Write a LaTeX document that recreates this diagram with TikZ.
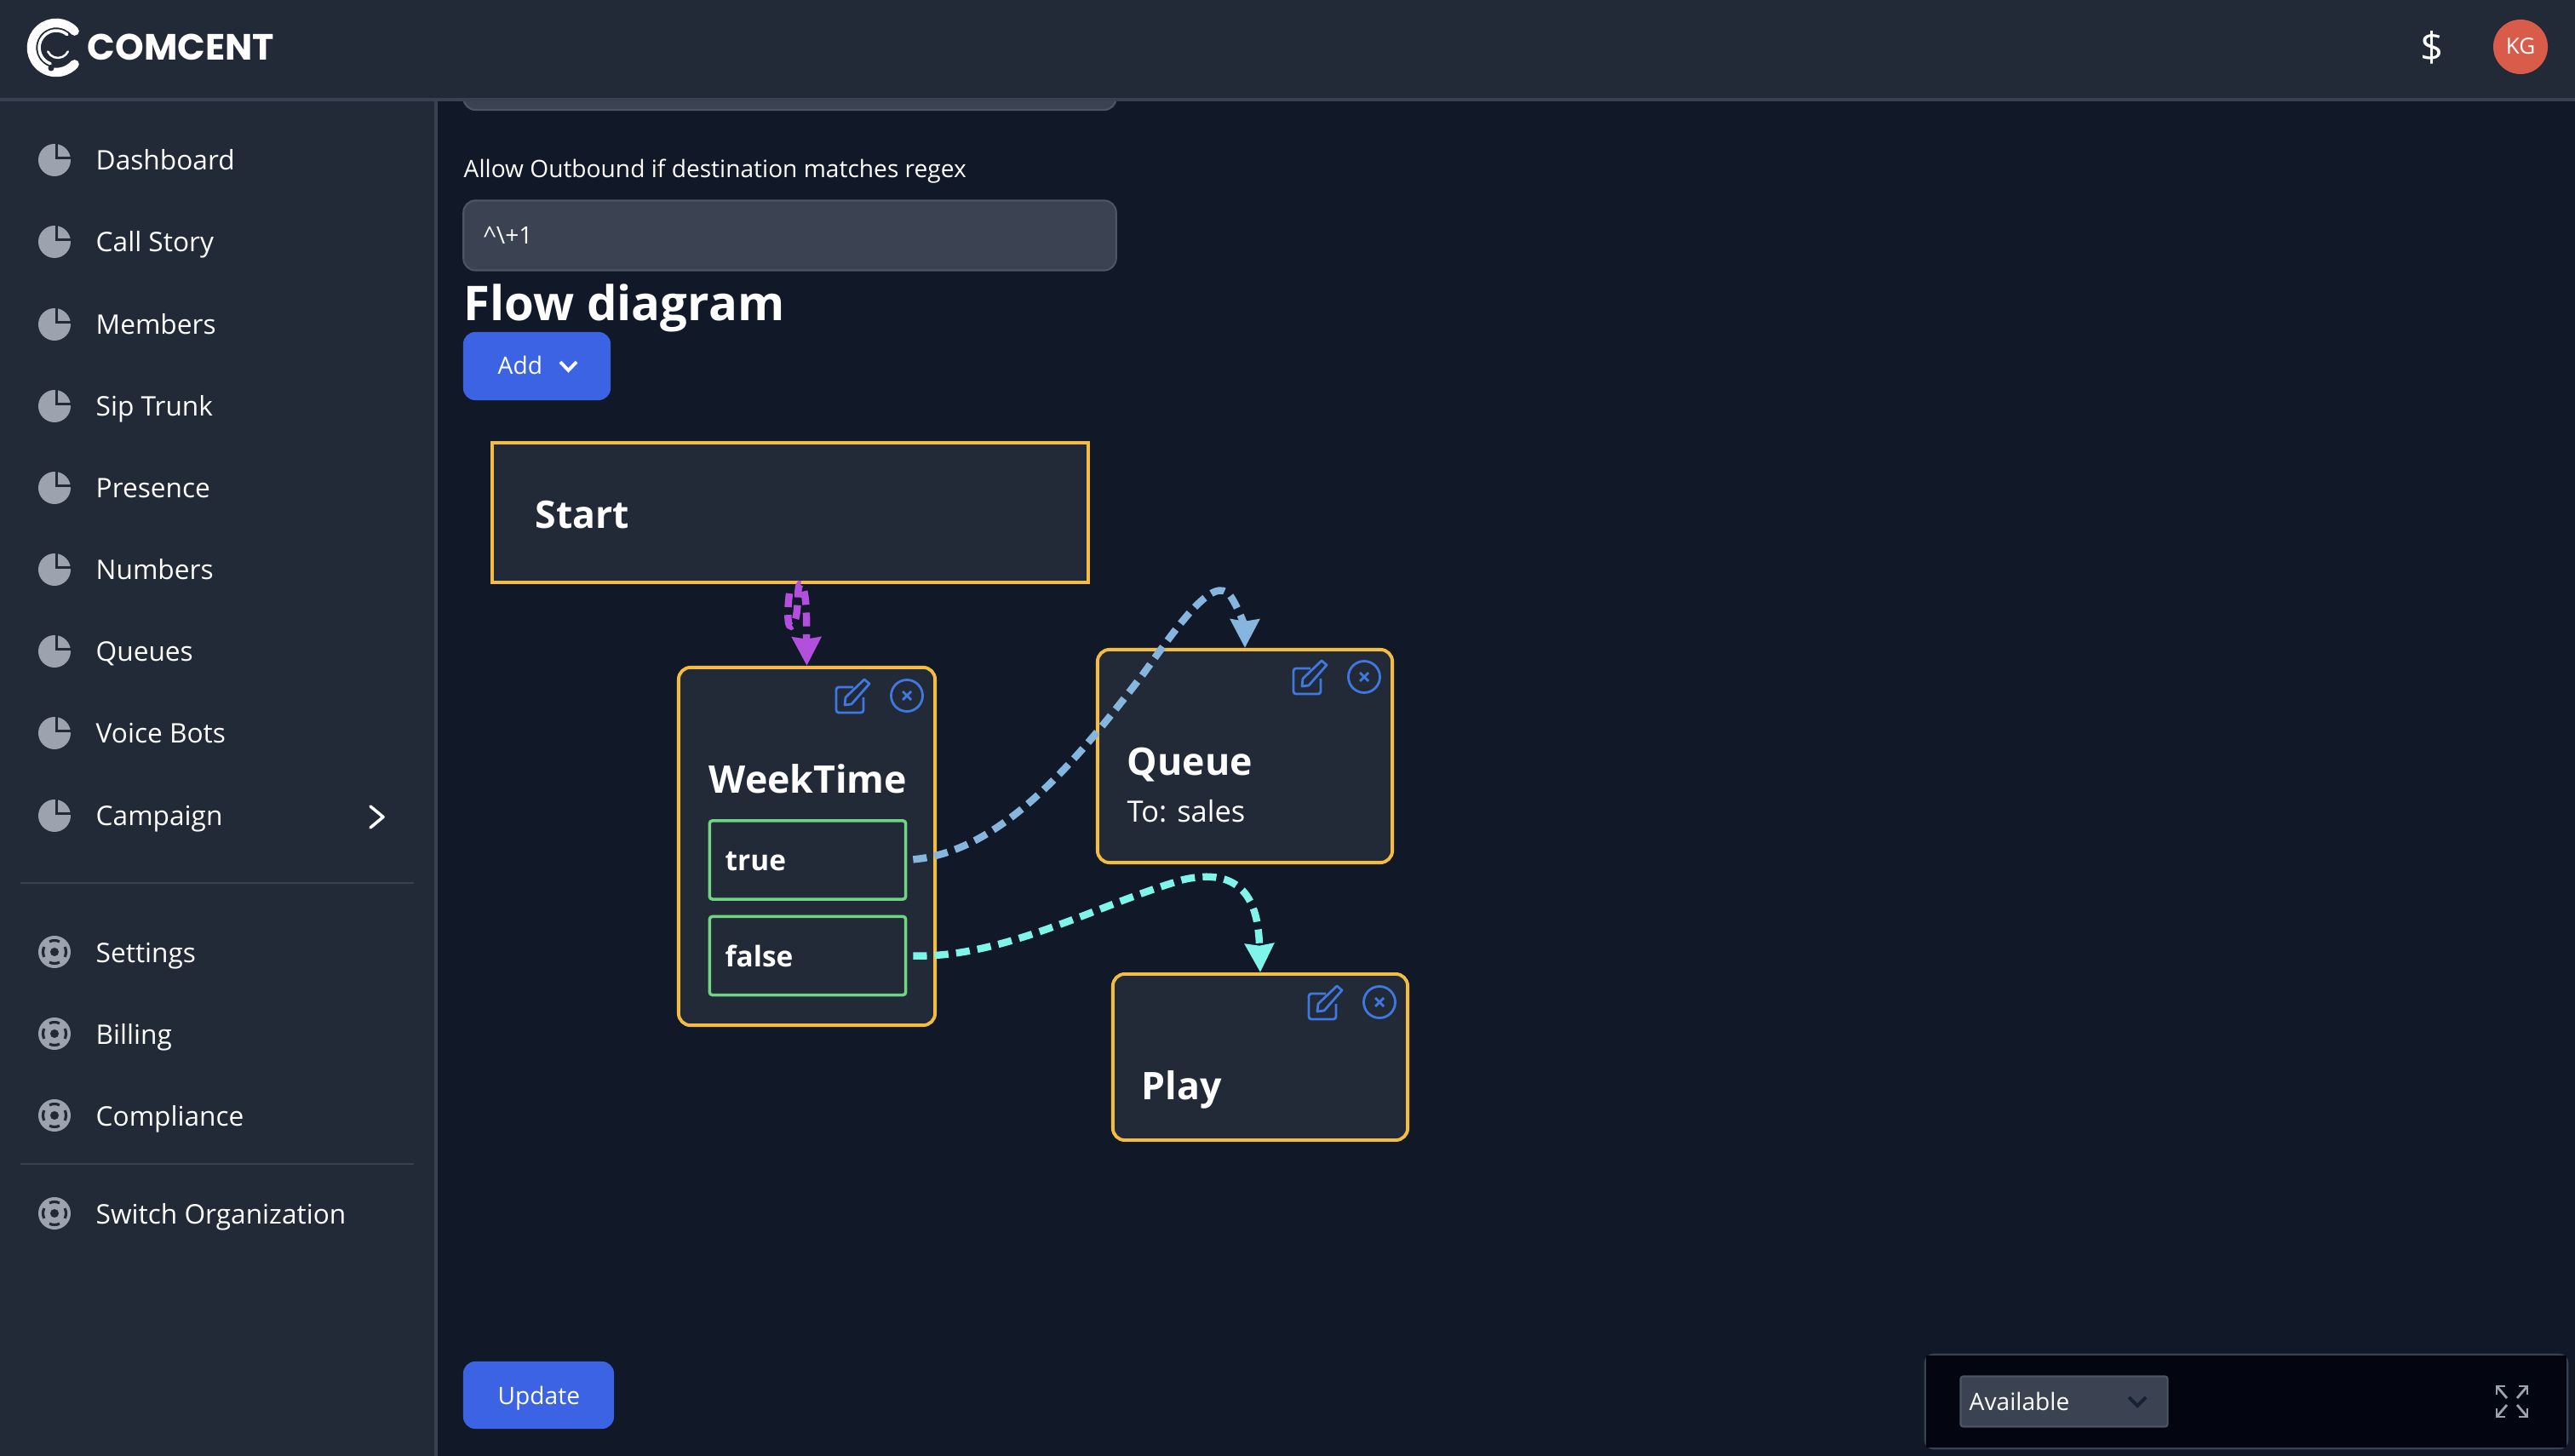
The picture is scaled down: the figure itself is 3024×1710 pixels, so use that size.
\documentclass[tikz,border=0pt]{standalone}
\usepackage{fontspec}
\setmainfont{Open Sans}
\newfontfamily\logofont{Poppins}
\usetikzlibrary{arrows.meta}
\definecolor{pagebg}{HTML}{111827}
\definecolor{panelbg}{HTML}{222937}
\definecolor{edgegray}{HTML}{374151}
\definecolor{fieldbg}{HTML}{3B4251}
\definecolor{fieldedge}{HTML}{4B5563}
\definecolor{icongray}{HTML}{9CA3AF}
\definecolor{btnblue}{HTML}{3B63E4}
\definecolor{iconblue}{HTML}{3F78E0}
\definecolor{boxyellow}{HTML}{F5BC42}
\definecolor{boxgreen}{HTML}{6FD582}
\definecolor{flowpurple}{HTML}{B24FDC}
\definecolor{flowblue}{HTML}{86B5DE}
\definecolor{flowcyan}{HTML}{7FF5EA}
\definecolor{avatarred}{HTML}{D95C4A}
\definecolor{dockbg}{HTML}{030611}

\begin{document}
\begin{tikzpicture}[x=0.01cm, y=-0.01cm, every node/.style={text=white, inner sep=0pt}]
    \tikzstyle{menu text}=[anchor=base west, font=\fontsize{9}{11}\selectfont]
    \tikzstyle{small text}=[anchor=base west, font=\fontsize{8}{10}\selectfont]
    \tikzstyle{title text}=[anchor=base west, font=\fontsize{12.7}{15}\selectfont\bfseries]
    \tikzstyle{branch text}=[anchor=base west, font=\fontsize{9.5}{11}\selectfont\bfseries]
    \tikzstyle{flow box}=[draw=boxyellow, line width=1.1pt, fill=panelbg, rounded corners=0.14cm]
    \tikzstyle{branch box}=[draw=boxgreen, line width=1pt, fill=panelbg, rounded corners=0.03cm, minimum width=2.3cm, minimum height=0.92cm]
    \tikzstyle{button}=[fill=btnblue, rounded corners=0.14cm]
    \tikzstyle{field}=[draw=fieldedge, line width=0.6pt, fill=fieldbg, rounded corners=0.14cm]
    \tikzstyle{flow line}=[line width=2.4pt, dash pattern=on 4.6pt off 2.6pt, shorten <=2pt, -{Stealth[length=9.5pt, width=9.5pt, inset=0.6pt]}]
    \useasboundingbox (0,0) rectangle (3024,1710);

    % Page, top field (goes under the header)
    \fill[pagebg] (0,0) rectangle (3024,1710);
    \node[field, minimum width=7.66cm, minimum height=0.78cm] (F-top) at (927.5,90) {};

    % Header and sidebar
    \fill[panelbg] (0,0) rectangle (3024,116);
    \fill[panelbg] (0,116) rectangle (510,1710);
    \draw[edgegray, line width=1pt] (0,117) -- (3024,117);
    \draw[edgegray, line width=1pt] (512,117) -- (512,1710);
    \draw[edgegray, line width=0.6pt] (24,1037) -- (486,1037);
    \draw[edgegray, line width=0.6pt] (24,1367) -- (486,1367);

    % Logo
    \draw[white, line width=3pt, line cap=round] (66,56) ++(42:0.29cm) arc[start angle=42, end angle=318, radius=0.29cm];
    \draw[white, line width=1pt, line cap=round] (66,56) ++(50:0.2cm) arc[start angle=50, end angle=250, radius=0.2cm];
    \draw[white, line width=0.7pt, line cap=round] (68,55) ++(205:0.13cm) arc[start angle=205, end angle=335, radius=0.13cm];
    \fill[panelbg] (60,80) circle[radius=0.035cm];
    \node[anchor=base west, font=\logofont\fontsize{12.2}{14}\selectfont\bfseries] (logo) at (102,71) {COMCENT};

    % Header right
    \node[font=\fontsize{13.5}{15}\selectfont] (dollar) at (2856,56) {\$};
    \node[circle, fill=avatarred, minimum size=0.64cm] (avatar) at (2960,55) {};
    \node[anchor=base, font=\fontsize{7.4}{9}\selectfont] (avatar-text) at (2960,64) {KG};

    % Sidebar, upper items
    \foreach \x/\y/\name in {1/188/Dashboard, 2/284/Call Story, 3/381/Members, 4/477/Sip Trunk, 5/573/Presence, 6/669/Numbers, 7/765/Queues, 8/861/Voice Bots, 9/958/Campaign} {
        \fill[icongray] (64,\y) circle[radius=0.19cm];
        \draw[panelbg, line width=1.1pt] (66.5,\y-24) -- (66.5,\y-2.5) -- (88,\y-2.5);
        \node[menu text] (M-\x) at (112,\y+12) {\name};
    }
    \draw[white, line width=1pt, line cap=round, line join=round] (435,947) -- (450,959.5) -- (435,972);

    % Sidebar, lower items
    \foreach \x/\y/\name in {1/1118/Settings, 2/1214/Billing, 3/1310/Compliance, 4/1425/Switch Organization} {
        \fill[icongray] (64,\y) circle[radius=0.19cm];
        \fill[panelbg] (64,\y) circle[radius=0.05cm];
        \foreach \a in {0,90,180,270}
            \draw[panelbg, line width=0.9pt] (64,\y) ++(\a-26:0.135cm) arc[start angle=\a-26, end angle=\a+26, radius=0.135cm];
        \node[menu text] (S-\x) at (112,\y+12) {\name};
    }

    % Form
    \node[small text] (regex-label) at (544,209) {Allow Outbound if destination matches regex};
    \node[field, minimum width=7.66cm, minimum height=0.82cm] (F-regex) at (927.5,276.5) {};
    \node[small text] (regex-value) at (567,287) {\^{}\textbackslash +1};
    \node[anchor=base west, font=\fontsize{16}{19}\selectfont\bfseries] (heading) at (544,377) {Flow diagram};
    \node[button, minimum width=1.73cm, minimum height=0.8cm] (add) at (630.5,430) {};
    \node[small text] (add-text) at (584,440) {Add};
    \draw[white, line width=1.1pt] (658,425) -- (667.5,435) -- (677,425);
    \node[button, minimum width=1.77cm, minimum height=0.79cm] (update) at (632.5,1638.5) {};
    \node[small text] (update-text) at (584,1649) {Update};

    % Flow boxes
    \node[flow box, rounded corners=0pt, minimum width=7cm, minimum height=1.64cm] (Start) at (928,602) {};
    \node[flow box, minimum width=3.01cm, minimum height=4.2cm] (WeekTime) at (947.5,994) {};
    \node[flow box, minimum width=3.46cm, minimum height=2.5cm] (Queue) at (1462,888) {};
    \node[flow box, minimum width=3.46cm, minimum height=1.95cm] (Play) at (1480,1241.5) {};
    \node[branch box] (true) at (948.5,1010) {};
    \node[branch box] (false) at (948.5,1122.5) {};

    % Flow box labels
    \node[title text] (Start-text) at (628,621) {Start};
    \node[title text] (WeekTime-text) at (832,932) {WeekTime};
    \node[title text] (Queue-text) at (1323,911) {Queue};
    \node[menu text, font=\fontsize{9.8}{12}\selectfont] (Queue-sub) at (1323,966) {To: sales};
    \node[title text] (Play-text) at (1340,1291) {Play};
    \node[branch text] (true-text) at (851,1023) {true};
    \node[branch text] (false-text) at (851,1135) {false};

    % Edit and close icons
    \foreach \x/\cx/\cy in {W/1001/817, Q/1538/795, P/1556/1177} {
        \draw[iconblue, line width=0.8pt, rounded corners=0.03cm] (\cx+1,\cy-10) -- (\cx-19,\cy-10) -- (\cx-19,\cy+20) -- (\cx+13,\cy+20) -- (\cx+13,\cy+2);
        \draw[iconblue, line width=0.8pt, line join=round] (\cx-9,\cy+11) -- (\cx-8,\cy+2) -- (\cx+14,\cy-19) -- (\cx+20,\cy-14) -- (\cx-1,\cy+10) -- cycle;
        \node[circle, draw=iconblue, line width=0.8pt, minimum size=0.37cm] (X-\x) at (\cx+64,\cy) {};
        \draw[iconblue, line width=0.8pt] (\cx+59,\cy-5) -- (\cx+69,\cy+5);
        \draw[iconblue, line width=0.8pt] (\cx+69,\cy-5) -- (\cx+59,\cy+5);
    }

    % Connect the flow boxes
    \coordinate (start-out) at (928,690);
    \draw[flow line, flowpurple] (start-out) .. controls (925,712) and (923,745) .. (932,733) .. controls (940,718) and (934,678) .. (942,688) .. controls (948,700) and (947,730) .. (WeekTime.north);
    \draw[flow line, flowblue] (true.east) .. controls (1180,1000) and (1270,885) .. (1340,795) .. controls (1380,740) and (1425,672) .. (1445,700) .. controls (1458,720) and (1462,740) .. (Queue.north);
    \draw[flow line, flowcyan] (false.east) .. controls (1180,1125) and (1290,1062) .. (1390,1033) .. controls (1470,1015) and (1478,1075) .. (Play.north);

    % Status dock
    \draw[edgegray, line width=0.8pt, rounded corners=0.1cm] (2261,1591) rectangle (3015,1701);
    \fill[dockbg] (2262,1592) rectangle (3014,1700);
    \node[field, rounded corners=0.03cm, minimum width=2.43cm, minimum height=0.59cm] (status) at (2424,1646) {};
    \node[small text] (status-text) at (2312,1656) {Available};
    \draw[fieldedge!130, line width=1.1pt] (2500,1641) -- (2510,1651) -- (2520,1641);

    % Expand icon
    \foreach \sx/\sy in {-1/-1, 1/-1, -1/1, 1/1} {
        \draw[icongray, line width=0.8pt] (2950+\sx*18,1646+\sy*8) -- (2950+\sx*18,1646+\sy*18) -- (2950+\sx*8,1646+\sy*18);
        \draw[icongray, line width=0.8pt] (2950+\sx*18,1646+\sy*18) -- (2950+\sx*6,1646+\sy*4);
    }
\end{tikzpicture}
\end{document}
